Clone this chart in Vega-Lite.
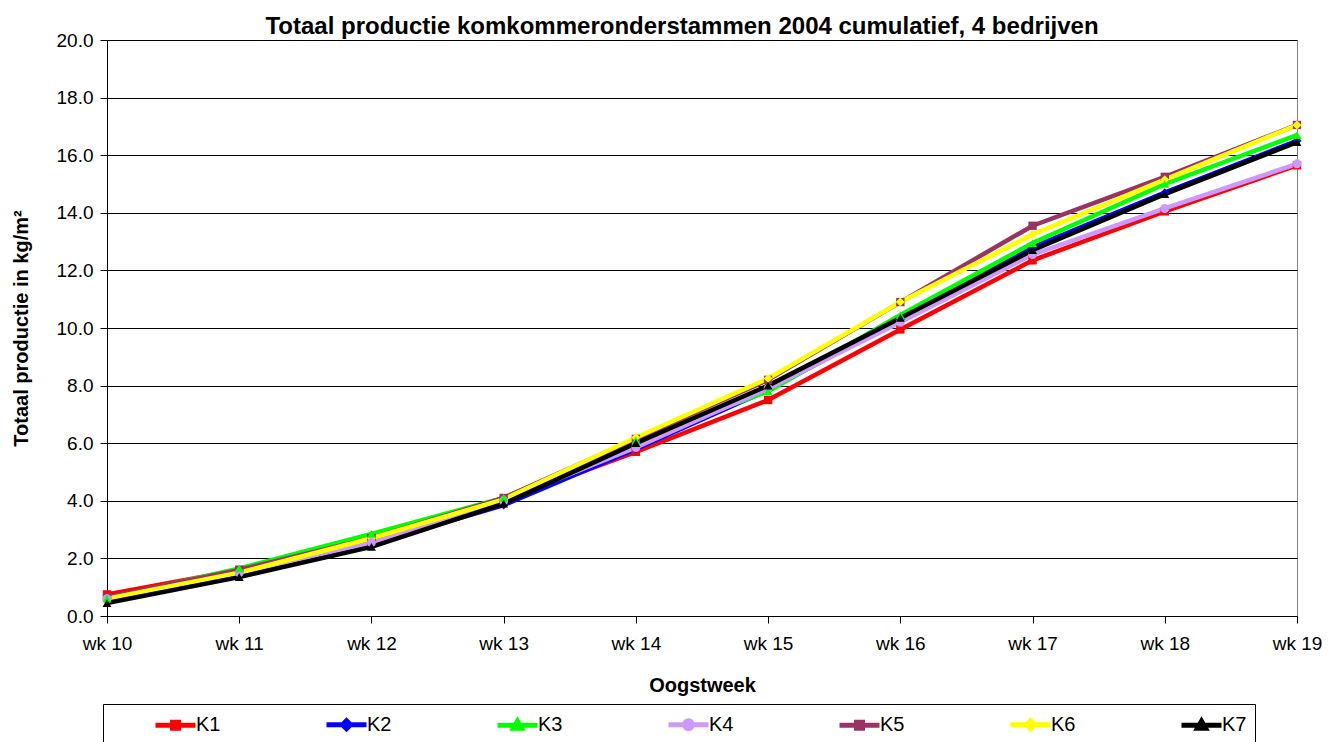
{
  "$schema": "https://vega.github.io/schema/vega-lite/v6.json",
  "width": 1190,
  "height": 576,
  "autosize": {"type": "none"},
  "padding": {"left": 107, "top": 40, "right": 38, "bottom": 126},
  "background": "white",
  "config": {
    "font": "Liberation Sans",
    "view": {"stroke": "#808080", "strokeWidth": 1}
  },
  "title": {
    "text": "Totaal productie komkommeronderstammen 2004 cumulatief, 4 bedrijven",
    "font": "Liberation Sans",
    "fontSize": 24,
    "fontWeight": "bold",
    "color": "black",
    "anchor": "middle",
    "dx": -20,
    "offset": -8
  },
  "data": {
    "values": [
      {"week": "wk 10", "serie": "K1", "value": 0.75},
      {"week": "wk 11", "serie": "K1", "value": 1.6},
      {"week": "wk 12", "serie": "K1", "value": 2.7},
      {"week": "wk 13", "serie": "K1", "value": 4.0},
      {"week": "wk 14", "serie": "K1", "value": 5.7},
      {"week": "wk 15", "serie": "K1", "value": 7.5},
      {"week": "wk 16", "serie": "K1", "value": 9.95},
      {"week": "wk 17", "serie": "K1", "value": 12.35},
      {"week": "wk 18", "serie": "K1", "value": 14.05},
      {"week": "wk 19", "serie": "K1", "value": 15.65},
      {"week": "wk 10", "serie": "K2", "value": 0.6},
      {"week": "wk 11", "serie": "K2", "value": 1.45},
      {"week": "wk 12", "serie": "K2", "value": 2.5},
      {"week": "wk 13", "serie": "K2", "value": 3.85},
      {"week": "wk 14", "serie": "K2", "value": 5.8},
      {"week": "wk 15", "serie": "K2", "value": 7.85},
      {"week": "wk 16", "serie": "K2", "value": 10.3},
      {"week": "wk 17", "serie": "K2", "value": 12.8},
      {"week": "wk 18", "serie": "K2", "value": 14.7},
      {"week": "wk 19", "serie": "K2", "value": 16.5},
      {"week": "wk 10", "serie": "K3", "value": 0.6},
      {"week": "wk 11", "serie": "K3", "value": 1.65},
      {"week": "wk 12", "serie": "K3", "value": 2.85},
      {"week": "wk 13", "serie": "K3", "value": 4.1},
      {"week": "wk 14", "serie": "K3", "value": 6.1},
      {"week": "wk 15", "serie": "K3", "value": 7.8},
      {"week": "wk 16", "serie": "K3", "value": 10.45},
      {"week": "wk 17", "serie": "K3", "value": 12.95},
      {"week": "wk 18", "serie": "K3", "value": 15.0},
      {"week": "wk 19", "serie": "K3", "value": 16.7},
      {"week": "wk 10", "serie": "K4", "value": 0.6},
      {"week": "wk 11", "serie": "K4", "value": 1.5},
      {"week": "wk 12", "serie": "K4", "value": 2.55},
      {"week": "wk 13", "serie": "K4", "value": 4.0},
      {"week": "wk 14", "serie": "K4", "value": 5.85},
      {"week": "wk 15", "serie": "K4", "value": 7.9},
      {"week": "wk 16", "serie": "K4", "value": 10.2},
      {"week": "wk 17", "serie": "K4", "value": 12.55},
      {"week": "wk 18", "serie": "K4", "value": 14.15},
      {"week": "wk 19", "serie": "K4", "value": 15.7},
      {"week": "wk 10", "serie": "K5", "value": 0.65},
      {"week": "wk 11", "serie": "K5", "value": 1.6},
      {"week": "wk 12", "serie": "K5", "value": 2.7},
      {"week": "wk 13", "serie": "K5", "value": 4.1},
      {"week": "wk 14", "serie": "K5", "value": 6.15},
      {"week": "wk 15", "serie": "K5", "value": 8.2},
      {"week": "wk 16", "serie": "K5", "value": 10.9},
      {"week": "wk 17", "serie": "K5", "value": 13.55},
      {"week": "wk 18", "serie": "K5", "value": 15.25},
      {"week": "wk 19", "serie": "K5", "value": 17.05},
      {"week": "wk 10", "serie": "K6", "value": 0.6},
      {"week": "wk 11", "serie": "K6", "value": 1.5},
      {"week": "wk 12", "serie": "K6", "value": 2.7},
      {"week": "wk 13", "serie": "K6", "value": 4.05},
      {"week": "wk 14", "serie": "K6", "value": 6.2},
      {"week": "wk 15", "serie": "K6", "value": 8.25},
      {"week": "wk 16", "serie": "K6", "value": 10.9},
      {"week": "wk 17", "serie": "K6", "value": 13.25},
      {"week": "wk 18", "serie": "K6", "value": 15.15},
      {"week": "wk 19", "serie": "K6", "value": 17.05},
      {"week": "wk 10", "serie": "K7", "value": 0.45},
      {"week": "wk 11", "serie": "K7", "value": 1.35},
      {"week": "wk 12", "serie": "K7", "value": 2.4},
      {"week": "wk 13", "serie": "K7", "value": 3.9},
      {"week": "wk 14", "serie": "K7", "value": 6.0},
      {"week": "wk 15", "serie": "K7", "value": 8.0},
      {"week": "wk 16", "serie": "K7", "value": 10.35},
      {"week": "wk 17", "serie": "K7", "value": 12.7},
      {"week": "wk 18", "serie": "K7", "value": 14.65},
      {"week": "wk 19", "serie": "K7", "value": 16.45}
    ]
  },
  "encoding": {
    "x": {
      "field": "week",
      "type": "ordinal",
      "sort": null,
      "scale": {"type": "point", "padding": 0},
      "axis": {
        "title": "Oogstweek",
        "titleFont": "Liberation Sans",
        "titleFontSize": 20,
        "titleFontWeight": "bold",
        "titleColor": "black",
        "titleBaseline": "top",
        "titleY": 59,
        "labelFont": "Liberation Sans",
        "labelFontSize": 19,
        "labelColor": "black",
        "labelAngle": 0,
        "labelPadding": 11,
        "tickSize": 7,
        "tickColor": "black",
        "domainColor": "black",
        "grid": false
      }
    },
    "y": {
      "field": "value",
      "type": "quantitative",
      "scale": {"domain": [0, 20], "nice": false},
      "axis": {
        "title": "Totaal productie in kg/m²",
        "titleFont": "Liberation Sans",
        "titleFontSize": 20,
        "titleFontWeight": "bold",
        "titleColor": "black",
        "titleAngle": -90,
        "titleX": -96,
        "titleBaseline": "top",
        "values": [0, 2, 4, 6, 8, 10, 12, 14, 16, 18, 20],
        "format": ".1f",
        "labelFont": "Liberation Sans",
        "labelFontSize": 19,
        "labelColor": "black",
        "labelPadding": 7,
        "tickSize": 7,
        "tickColor": "black",
        "domainColor": "black",
        "grid": true,
        "gridColor": "black",
        "gridWidth": 1
      }
    },
    "color": {
      "field": "serie",
      "type": "nominal",
      "scale": {
        "domain": ["K1", "K2", "K3", "K4", "K5", "K6", "K7"],
        "range": ["#FF0000", "#0000FF", "#00FF00", "#CC99FF", "#993366", "#FFFF00", "#000000"]
      },
      "legend": {
        "title": null,
        "orient": "none",
        "legendX": -4,
        "legendY": 664,
        "direction": "horizontal",
        "columns": 7,
        "columnPadding": 61,
        "padding": 8,
        "symbolOffset": 52,
        "strokeColor": "black",
        "symbolSize": 400,
        "symbolStrokeWidth": 5,
        "labelFont": "Liberation Sans",
        "labelFontSize": 20,
        "labelColor": "black",
        "labelOffset": 8,
        "encode": {
          "symbols": {
            "update": {
              "shape": {"signal": "(datum.value === 'K1' || datum.value === 'K5') ? 'M-2,0H2M-0.3,-0.3H0.3V0.3H-0.3Z' : (datum.value === 'K2' || datum.value === 'K6') ? 'M-2,0H2M0,-0.4L0.4,0L0,0.4L-0.4,0Z' : (datum.value === 'K3' || datum.value === 'K7') ? 'M-2,0H2M0,-0.4L0.4,0.3L-0.4,0.3Z' : 'M-2,0H2M-0.4,0A0.4,0.4,0,1,0,0.4,0A0.4,0.4,0,1,0,-0.4,0Z'"},
              "fill": {"scale": "color", "field": "value"},
              "stroke": {"scale": "color", "field": "value"},
              "strokeWidth": {"value": 5},
              "opacity": {"value": 1}
            }
          }
        }
      }
    },
    "order": {"field": "serie"}
  },
  "layer": [
    {
      "mark": {"type": "line", "strokeWidth": 4.5}
    },
    {
      "transform": [{"filter": {"field": "serie", "oneOf": ["K1", "K5"]}}],
      "mark": {"type": "point", "filled": true, "opacity": 1, "size": 70, "shape": "square"}
    },
    {
      "transform": [{"filter": {"field": "serie", "oneOf": ["K2", "K6"]}}],
      "mark": {"type": "point", "filled": true, "opacity": 1, "size": 80, "shape": "diamond"}
    },
    {
      "transform": [{"filter": {"field": "serie", "oneOf": ["K4"]}}],
      "mark": {"type": "point", "filled": true, "opacity": 1, "size": 80, "shape": "circle"}
    },
    {
      "transform": [{"filter": {"field": "serie", "oneOf": ["K3", "K7"]}}],
      "mark": {"type": "point", "filled": true, "opacity": 1, "size": 80, "shape": "triangle-up"}
    }
  ]
}
